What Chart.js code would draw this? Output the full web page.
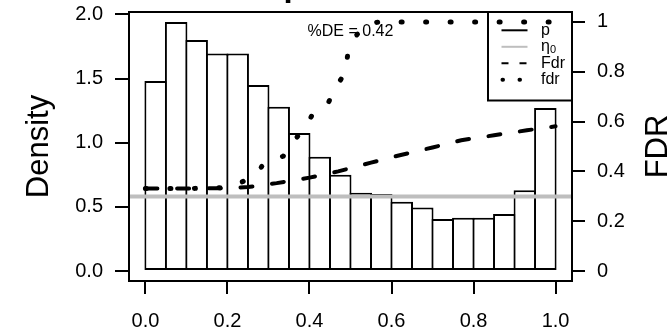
<!DOCTYPE html>
<html>
<head>
<meta charset="utf-8">
<script src="https://cdn.jsdelivr.net/npm/chart.js@4.4.1/dist/chart.umd.min.js"></script>
<style>
  html, body { margin: 0; padding: 0; background: #fff; }
  #wrap { width: 671px; height: 331px; }
</style>
</head>
<body>
<div id="wrap"><canvas id="pvalChart"></canvas></div>
<script>
// p-value histogram, bins of width 0.05
const binCenters = [0.025, 0.075, 0.125, 0.175, 0.225, 0.275, 0.325, 0.375, 0.425, 0.475,
                    0.525, 0.575, 0.625, 0.675, 0.725, 0.775, 0.825, 0.875, 0.925, 0.975];
const density = [1.48, 1.94, 1.80, 1.695, 1.695, 1.45, 1.28, 1.075, 0.89, 0.75,
                 0.61, 0.60, 0.54, 0.495, 0.405, 0.415, 0.415, 0.445, 0.63, 1.27];
const eta0 = 0.58;
const pctDE = 0.42;

// cumulative Fdr (right axis)
const FdrX = [0, 0.1, 0.2, 0.25, 0.32, 0.4, 0.47, 0.55, 0.62, 0.7, 0.77, 0.85, 0.93, 1.0];
const FdrY = [0.331, 0.331, 0.333, 0.337, 0.353, 0.375, 0.40, 0.435, 0.465, 0.496, 0.525, 0.545, 0.565, 0.581];

// local fdr (right axis)
const fdrX = [0, 0.1, 0.2, 0.227, 0.265, 0.291, 0.336, 0.36, 0.388, 0.409, 0.445, 0.464,
              0.488, 0.494, 0.514, 0.544, 0.57, 0.7, 0.85, 1.0];
const fdrY = [0.331, 0.331, 0.335, 0.351, 0.381, 0.435, 0.461, 0.521, 0.570, 0.634, 0.672, 0.739,
              0.797, 0.882, 0.946, 0.993, 1.0, 1.0, 1.0, 1.0];

const xTicks = [0, 0.2, 0.4, 0.6, 0.8, 1];
const densityTicks = [0, 0.5, 1, 1.5, 2];
const fdrTicks = [0, 0.2, 0.4, 0.6, 0.8, 1];
const xRange = [-0.04, 1.04];
const densityRange = [-0.0776, 2.0183];
const fdrRange = [-0.04, 1.04];

const legendLabels = ['p', 'η', 'Fdr', 'fdr'];
const mainTitle = 'p-values';

const FONT = '"Liberation Sans", Arial, sans-serif';

const pts = (xs, ys) => xs.map((x, i) => ({x: x, y: ys[i]}));

// box, titles, %DE note and legend, drawn like base R graphics
const decorations = {
  id: 'decorations',
  beforeDatasetsDraw(chart) {
    const {ctx, chartArea: a} = chart;
    ctx.save();
    ctx.fillStyle = '#000';
    ctx.font = '16px ' + FONT;
    ctx.textAlign = 'center';
    ctx.textBaseline = 'alphabetic';
    ctx.fillText('%DE = ' + pctDE.toFixed(2), (a.left + a.right) / 2, a.top + 24);
    ctx.restore();
  },
  afterDraw(chart) {
    const {ctx, chartArea: a} = chart;
    const midY = (a.top + a.bottom) / 2;
    ctx.save();
    ctx.setLineDash([]);
    ctx.lineCap = 'butt';
    ctx.strokeStyle = '#000';
    ctx.fillStyle = '#000';
    ctx.lineWidth = 2;
    ctx.strokeRect(a.left, a.top, a.right - a.left, a.bottom - a.top);

    // main title sits mostly above the visible area
    ctx.font = 'bold 33px ' + FONT;
    ctx.textAlign = 'center';
    ctx.textBaseline = 'alphabetic';
    ctx.fillText(mainTitle, (a.left + a.right) / 2, -4);

    // axis titles, both read bottom to top
    ctx.font = '31px ' + FONT;
    ctx.save();
    ctx.translate(48, midY);
    ctx.rotate(-Math.PI / 2);
    ctx.fillText('Density', 0, 0);
    ctx.restore();
    ctx.save();
    ctx.translate(666.5, midY);
    ctx.rotate(-Math.PI / 2);
    ctx.fillText('FDR', 0, 0);
    ctx.restore();

    // legend
    const lx = a.right - 84, ly = a.top;
    ctx.lineWidth = 2;
    ctx.strokeRect(lx, ly, 84, 88.5);
    const x0 = a.right - 70.5, x1 = a.right - 44.5, tx = a.right - 31;
    const rows = [18.3, 34.8, 51.3, 67.8].map(d => ly + d);
    const styles = [
      {color: '#000', width: 2, dash: [], cap: 'butt'},
      {color: '#BEBEBE', width: 2, dash: [], cap: 'butt'},
      {color: '#000', width: 2, dash: [7, 11], cap: 'butt'},
      {color: '#000', width: 4, dash: [0.5, 16.5], cap: 'round'}
    ];
    ctx.font = '16px ' + FONT;
    ctx.textAlign = 'left';
    ctx.textBaseline = 'middle';
    rows.forEach((y, i) => {
      const s = styles[i];
      ctx.beginPath();
      ctx.strokeStyle = s.color;
      ctx.lineWidth = s.width;
      ctx.setLineDash(s.dash);
      ctx.lineCap = s.cap;
      ctx.moveTo(x0 + (s.cap === 'round' ? 1 : 0), y);
      ctx.lineTo(x1, y);
      ctx.stroke();
      ctx.fillText(legendLabels[i], tx, y);
    });
    // subscript for eta_0
    const etaW = ctx.measureText(legendLabels[1]).width;
    ctx.font = '11px ' + FONT;
    ctx.fillText('0', tx + etaW, rows[1] + 3);
    ctx.restore();
  }
};

const tickFont = {family: FONT, size: 20};
const noPad = s => { s.paddingTop = 0; s.paddingBottom = 0; };

new Chart(document.getElementById('pvalChart'), {
  type: 'bar',
  data: {
    datasets: [
      {
        type: 'bar',
        label: 'p',
        data: pts(binCenters, density),
        backgroundColor: '#fff',
        borderColor: '#000',
        borderWidth: 2,
        borderSkipped: false,
        // bars overlap by one border so shared edges are a single line
        barPercentage: 1.097,
        categoryPercentage: 1,
        yAxisID: 'y',
        order: 4
      },
      {
        type: 'line',
        label: 'eta0',
        data: pts(xRange, [eta0, eta0]),
        borderColor: '#BEBEBE',
        borderWidth: 4,
        pointRadius: 0,
        yAxisID: 'y',
        order: 3
      },
      {
        type: 'line',
        label: 'Fdr',
        data: pts(FdrX, FdrY),
        borderColor: '#000',
        borderWidth: 4,
        borderDash: [12, 19.7],
        borderCapStyle: 'round',
        pointRadius: 0,
        tension: 0,
        yAxisID: 'y2',
        order: 2
      },
      {
        type: 'line',
        label: 'fdr',
        data: pts(fdrX, fdrY),
        borderColor: '#000',
        borderWidth: 5,
        borderDash: [1, 23.5],
        borderCapStyle: 'round',
        pointRadius: 0,
        tension: 0,
        yAxisID: 'y2',
        order: 1
      }
    ]
  },
  options: {
    responsive: true,
    maintainAspectRatio: false,
    animation: false,
    layout: {padding: {top: 12, left: 0, right: 0, bottom: 0}},
    plugins: {legend: {display: false}, tooltip: {enabled: false}},
    scales: {
      x: {
        type: 'linear',
        offset: false,
        min: xRange[0], max: xRange[1],
        afterBuildTicks: s => { s.ticks = xTicks.map(v => ({value: v})); },
        afterFit: s => { s.height = 50; s.paddingLeft = 0; s.paddingRight = 0; },
        border: {display: false},
        grid: {offset: false, drawOnChartArea: false, drawTicks: true, tickLength: 13, color: '#000', lineWidth: 2},
        ticks: {color: '#000', font: tickFont, padding: 15, maxRotation: 0, autoSkip: false,
                callback: v => v.toFixed(1)}
      },
      y: {
        position: 'left',
        min: densityRange[0], max: densityRange[1],
        afterBuildTicks: s => { s.ticks = densityTicks.map(v => ({value: v})); },
        afterFit: s => { s.width = 129; noPad(s); },
        border: {display: false},
        grid: {drawOnChartArea: false, drawTicks: true, tickLength: 14, color: '#000', lineWidth: 2},
        ticks: {color: '#000', font: tickFont, padding: 12, autoSkip: false,
                callback: v => v.toFixed(1)}
      },
      y2: {
        position: 'right',
        min: fdrRange[0], max: fdrRange[1],
        afterBuildTicks: s => { s.ticks = fdrTicks.map(v => ({value: v})); },
        afterFit: s => { s.width = 99; noPad(s); },
        border: {display: false},
        grid: {drawOnChartArea: false, drawTicks: true, tickLength: 13, color: '#000', lineWidth: 2},
        ticks: {color: '#000', font: tickFont, padding: 12, autoSkip: false,
                callback: v => String(v)}
      }
    }
  },
  plugins: [decorations]
});
</script>
</body>
</html>
